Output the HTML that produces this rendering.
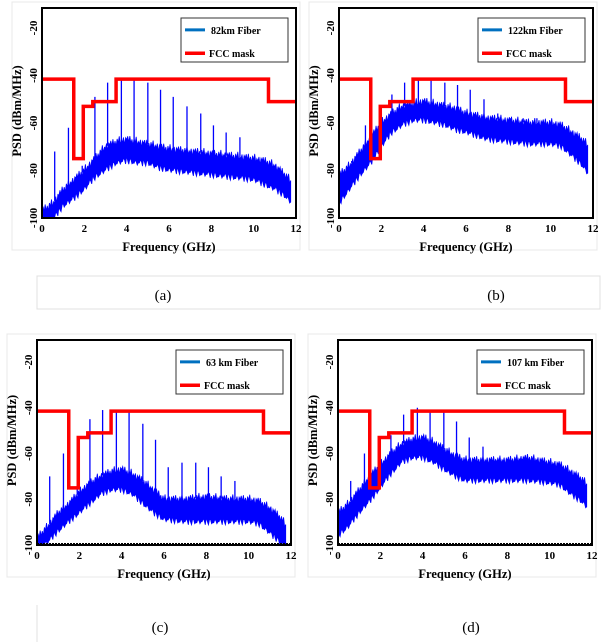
<!DOCTYPE html>
<html><head><meta charset="utf-8">
<style>
body{margin:0;background:#fff;width:604px;height:642px;overflow:hidden;font-family:"Liberation Serif",serif}
svg{position:absolute;left:0;top:0}
</style></head>
<body>
<svg id="fig" width="604" height="642"></svg>
<script>
// ---- data ----
const maskFreqs=[0,1.5,1.5,1.95,1.95,2.4,2.4,3.5,3.5,10.7,10.7,12];
const maskLevels=[-41.5,-41.5,-75,-75,-53,-53,-51,-51,-41.5,-41.5,-51,-51];
const spikeFreqs=[0.6,1.25,1.9,2.5,3.1,3.75,4.35,5.0,5.6,6.2,6.85,7.5,8.1,8.7,9.35,10.0];
const xTicks=[0,2,4,6,8,10,12];
const yTicks=[-20,-40,-60,-80,-100];
const panelLabels=["(a)","(b)","(c)","(d)"];
const legendNames=["82km Fiber","122km Fiber","63 km Fiber","107 km Fiber"];
const bandFreqs=[0,0.5,1,1.5,2,2.5,3,3.5,4,4.5,5,5.5,6,7,8,9,10,10.5,11,11.5,11.8];
const aTop=[-97,-94,-88,-84,-80,-75,-70,-68,-67,-68,-69,-70,-71,-72,-73,-74,-75,-76,-78,-82,-85];
const aBot=[-100,-99,-93,-90,-86,-81,-78,-75,-74,-75,-75,-77,-78,-79,-80,-81,-82,-84,-86,-89,-92];
const bTop=[-82,-78,-72,-66,-60,-56,-53,-52,-51,-52,-53,-54,-56,-58,-59,-60,-60,-61,-64,-67,-70];
const bBot=[-92,-86,-80,-75,-68,-62,-59,-57,-57,-58,-59,-61,-62,-65,-66,-67,-67,-68,-72,-76,-80];
const cTop=[-97,-92,-86,-82,-77,-73,-70,-68,-67,-69,-72,-76,-80,-80,-79,-80,-80,-81,-84,-88,-92];
const cBot=[-100,-97,-92,-88,-84,-80,-76,-74,-74,-76,-80,-84,-87,-88,-88,-88,-88,-89,-93,-97,-100];
const dTop=[-86,-82,-76,-70,-65,-60,-56,-54,-53,-55,-58,-61,-63,-63,-63,-62,-64,-65,-68,-71,-74];
const dBot=[-94,-90,-84,-79,-73,-67,-62,-60,-60,-62,-65,-68,-70,-70,-70,-70,-71,-72,-76,-79,-82];
const aSpikes=[-72,-62,-78,-49,-43,-41,-41,-43,-46,-49,-53,-56,-61,-64,-66,-76];
const bSpikes=[-76,-61,-70,-48,-43,-42,-41,-43,-44,-46,-50,-56,-58,-58,-58,-60];
const cSpikes=[-70,-60,-75,-45,-41,-41,-42,-47,-54,-66,-64,-64,-66,-70,-72,-80];
const dSpikes=[-72,-60,-72,-52,-43,-40,-41,-42,-46,-53,-57,-64,-66,-66,-67,-70];
const jitter=[0,2.5,-1.5,3,-2,1,-3,2,-1,3.5,-2.5,0.5,-1,2,-3.5,1.5];

const panels=[
 {L:42,R:296,T:8,B:218,y20:28,top:aTop,bot:aBot,sp:aSpikes,capX:163,capY:300},
 {L:339,R:593,T:8,B:218,y20:28,top:bTop,bot:bBot,sp:bSpikes,capX:496,capY:300},
 {L:37,R:291,T:340,B:545,y20:362,top:cTop,bot:cBot,sp:cSpikes,capX:160,capY:632},
 {L:338,R:592,T:340,B:545,y20:362,top:dTop,bot:dBot,sp:dSpikes,capX:471,capY:632}
];
const NS="http://www.w3.org/2000/svg";
const svg=document.getElementById('fig');
function mk(tag,attrs,parent){const e=document.createElementNS(NS,tag);for(const k in attrs)e.setAttribute(k,attrs[k]);(parent||svg).appendChild(e);return e;}
function interp(xs,ys,x){for(let i=0;i<xs.length-1;i++){if(x<=xs[i+1]){const t=(x-xs[i])/(xs[i+1]-xs[i]);return ys[i]+t*(ys[i+1]-ys[i]);}}return ys[ys.length-1];}

const cb1=mk('rect',{x:37,y:276,width:563,height:33,fill:'none',stroke:'#e0e0e0','stroke-width':1});

const cb2=mk('line',{x1:37,x2:37,y1:605,y2:642,stroke:'#e0e0e0','stroke-width':1});


panels.forEach((p,pi)=>{
  const g=mk('g',{});
  
  
  const per=(p.B-p.y20)/80;
  const X=f=>p.L+f/12*(p.R-p.L);
  const Y=v=>p.B-(v+100)*per;
  const fr=mk('rect',{x:p.L-30,y:p.T-6,width:p.R-p.L+34,height:p.B-p.T+38,fill:'none',stroke:'#e8e8e8','stroke-width':1},g);
  
  const clip='clip'+pi;
  const cp=mk('clipPath',{id:clip},g);mk('rect',{x:p.L,y:p.T,width:p.R-p.L,height:p.B-p.T},cp);
  const dg=mk('g',{'clip-path':'url(#'+clip+')'},g);
  let up=[],dn=[];let k=0;
  for(let f=0;f<=11.8;f+=0.05){const j=jitter[k%jitter.length];
    up.push(X(f)+','+Y(interp(bandFreqs,p.top,f)+j*0.6));
    dn.push(X(f)+','+Y(interp(bandFreqs,p.bot,f)-Math.abs(jitter[(k*7)%jitter.length])*0.9));k++;}
  const band=mk('polygon',{points:up.concat(dn.reverse()).join(' '),fill:'#0000ff',stroke:'#0000ff','stroke-width':0.8},dg);
  
  spikeFreqs.forEach((f,i)=>{
    const l=mk('line',{x1:X(f),x2:X(f),y1:Y(interp(bandFreqs,p.top,f)),y2:Y(p.sp[i]),stroke:'#0000ff','stroke-width':1.3},dg);
    
  });
  const mp=maskFreqs.map((f,i)=>X(f)+','+Y(maskLevels[i])).join(' ');
  const m=mk('polyline',{points:mp,fill:'none',stroke:'#ff0000','stroke-width':3.5},dg);
  
  if(pi>=2){const bl=mk('line',{x1:p.L,x2:p.R,y1:p.B-1.5,y2:p.B-1.5,stroke:'#000','stroke-width':1,'stroke-dasharray':'2,1'},g);
    }
  const pf=mk('rect',{x:p.L,y:p.T,width:p.R-p.L,height:p.B-p.T,fill:'none',stroke:'#000','stroke-width':2},g);
  
  xTicks.forEach(t=>{const tx=mk('text',{x:X(t),y:p.B+14,'text-anchor':'middle','font-size':11,'font-weight':'bold'},g);tx.textContent=t;
    });
  yTicks.forEach(t=>{const ty=mk('text',{x:0,y:0,transform:'translate('+(p.L-5)+','+Y(t)+') rotate(-90)','text-anchor':'middle','font-size':11,'font-weight':'bold'},g);ty.textContent=t;
    });
  const xt=mk('text',{x:(p.L+p.R)/2,y:p.B+33,'text-anchor':'middle','font-size':12.5,'font-weight':'bold'},g);xt.textContent='Frequency (GHz)';
  
  const yt=mk('text',{x:0,y:0,transform:'translate('+(p.L-21)+','+((p.T+p.B)/2-2)+') rotate(-90)','text-anchor':'middle','font-size':12.5,'font-weight':'bold'},g);yt.textContent='PSD (dBm/MHz)';
  
  const lx=p.L+139,ly=p.T+10,lh=44;
  const lg=mk('rect',{x:lx,y:ly,width:107,height:lh,fill:'#fff',stroke:'#333','stroke-width':1},g);
  
  const l1=mk('line',{x1:lx+4,x2:lx+24,y1:ly+lh*0.27,y2:ly+lh*0.27,stroke:'#0070c0','stroke-width':3},g);
  
  const t1=mk('text',{x:lx+30,y:ly+lh*0.27+4,'font-size':10,'font-weight':'bold'},g);t1.textContent=legendNames[pi];
  
  const l2=mk('line',{x1:lx+4,x2:lx+24,y1:ly+lh*0.8,y2:ly+lh*0.8,stroke:'#ff0000','stroke-width':3.5},g);
  
  const t2=mk('text',{x:lx+28,y:ly+lh*0.8+4,'font-size':10,'font-weight':'bold'},g);t2.textContent='FCC mask';
  
  const c=mk('text',{x:p.capX,y:p.capY,'text-anchor':'middle','font-size':15},g);c.textContent=panelLabels[pi];
  
});
</script>
</body></html>
